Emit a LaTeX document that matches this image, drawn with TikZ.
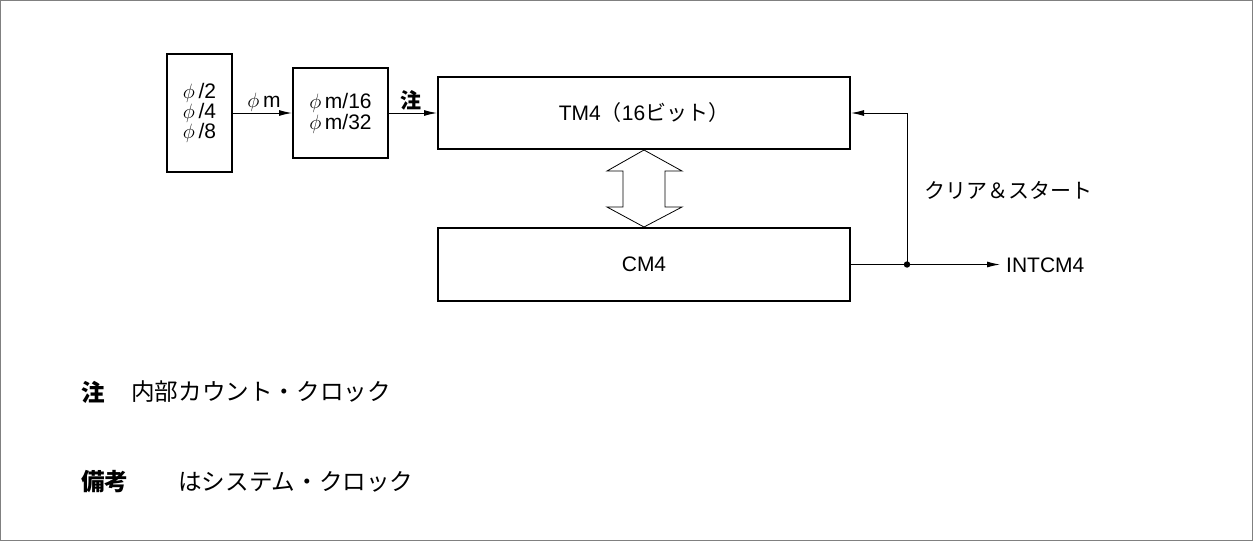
\documentclass[tikz,border=0pt]{standalone}
\usepackage{fontspec}
\setmainfont{Liberation Sans}
\newfontfamily\jp{Noto Sans CJK JP}
\usetikzlibrary{arrows.meta,calc}
\begin{document}
\begin{tikzpicture}[x=1pt,y=-1pt,
  blk/.style={draw,line width=2pt,inner sep=0pt,align=center,font=\fontsize{21}{20}\selectfont},
  lbl/.style={inner sep=0pt,font=\fontsize{21}{24}\selectfont},
  note/.style={inner sep=0pt,anchor=west,font=\jp\fontsize{23.6}{26}\selectfont},
  conn/.style={line width=1pt},
  arr/.style={conn,-{Latex[length=13pt,width=6pt]}}]
\useasboundingbox (0,0) rectangle (1253,541);
\draw[gray,line width=1pt] (0.5,0.5) rectangle (1252.5,540.5);
% blocks
\node[blk,minimum width=65pt,minimum height=118pt] (b1) at (199.5,113)
  {$\phi$\,/2\\$\phi$\,/4\\$\phi$\,/8};
\node[blk,minimum width=95pt,minimum height=90pt] (b2) at (340.5,113)
  {$\phi$\,m/16\\[1pt]$\phi$\,m/32};
\node[blk,minimum width=412pt,minimum height=72pt] (tm) at (644,113)
  {TM4{\jp（}16{\jp ビット）}};
\node[blk,minimum width=412pt,minimum height=73pt] (cm) at (644,264.5) {CM4};
% double arrow
\draw[line width=0.8pt] (tm.south) -- ($(tm.south)+(38,21)$) -- ($(tm.south)+(21,21)$)
  -- ($(cm.north)+(21,-20)$) -- ($(cm.north)+(38,-20)$) -- (cm.north)
  -- ($(cm.north)+(-37,-20)$) -- ($(cm.north)+(-21,-20)$)
  -- ($(tm.south)+(-21,21)$) -- ($(tm.south)+(-37,21)$) -- cycle;
% connectors
\draw[arr] (b1.east) -- (b2.west);
\draw[arr] (b2.east) -- (tm.west);
\coordinate (j) at (907,264.5);
\coordinate (o) at (1000,264.5);
\draw[conn] (cm.east) -- (j);
\draw[arr] (j) -- (o);
\draw[arr] (j) |- (tm.east);
\fill (j) circle (3.2pt);
% labels
\node[lbl] (phim) at (264,102) {$\phi$\,m};
\node[lbl,font=\jp\bfseries\fontsize{21}{24}\selectfont] (chu) at (411,100) {注};
\node[lbl,anchor=west,font=\jp\fontsize{21}{24}\selectfont] (cs) at (924,190) {クリア＆スタート};
\node[lbl,anchor=west] (int) at (1006,265) {INTCM4};
% notes
\node[note,font=\jp\bfseries\fontsize{23.6}{26}\selectfont] (n1) at (81,392) {注};
\node[note] (n1t) at (131,392) {内部カウント・クロック};
\node[note,font=\jp\bfseries\fontsize{23.6}{26}\selectfont] (n2) at (81,482) {備考};
\node[note] (n2t) at (178,482) {はシステム・クロック};
\end{tikzpicture}
\end{document}
